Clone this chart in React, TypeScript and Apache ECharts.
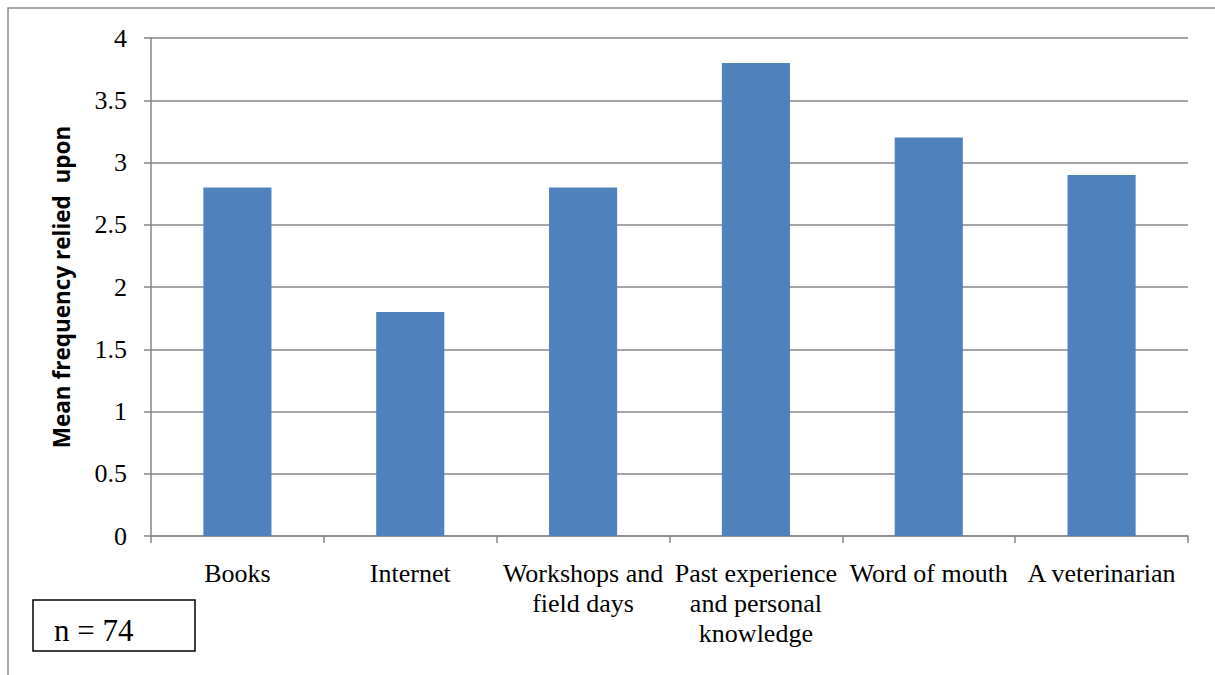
import React, { useEffect, useRef } from "react";
import * as echarts from "echarts";

const categories = [
  "Books",
  "Internet",
  "Workshops and\nfield days",
  "Past experience\nand personal\nknowledge",
  "Word of mouth",
  "A veterinarian",
];
const meanValues = [2.8, 1.8, 2.8, 3.8, 3.2, 2.9];
const yAxisTitle = "Mean frequency relied  upon";
const sampleNote = "n = 74";
const yMin = 0;
const yMax = 4;
const yStep = 0.5;

export default function App() {
  const ref = useRef<HTMLDivElement>(null);
  useEffect(() => {
    if (!ref.current) return;
    const chart = echarts.init(ref.current, null, { renderer: "svg" });
    const serif = "'Liberation Serif', 'Times New Roman', serif";
    const axisGray = "#868686";
    chart.setOption({
      animation: false,
      backgroundColor: "#ffffff",
      grid: { left: 151, right: 27, top: 38, bottom: 139, containLabel: false },
      xAxis: {
        type: "category",
        data: categories,
        boundaryGap: true,
        axisLine: { show: true, lineStyle: { color: axisGray, width: 1.5 } },
        axisTick: { show: true, alignWithLabel: false, length: 7, lineStyle: { color: axisGray, width: 1.5 } },
        axisLabel: {
          interval: 0,
          margin: 22,
          fontFamily: serif,
          fontSize: 26,
          lineHeight: 30,
          color: "#000000",
          align: "center",
        },
        splitLine: { show: false },
      },
      yAxis: {
        type: "value",
        min: yMin,
        max: yMax,
        interval: yStep,
        name: yAxisTitle,
        nameLocation: "middle",
        nameGap: 78,
        nameRotate: 90,
        nameTextStyle: {
          fontFamily: "'Open Sans', sans-serif",
          fontWeight: "bold",
          fontSize: 22.5,
          color: "#000000",
        },
        axisLine: { show: true, lineStyle: { color: axisGray, width: 1.5 } },
        axisTick: { show: true, inside: false, length: 7, lineStyle: { color: axisGray, width: 1.5 } },
        axisLabel: {
          margin: 24,
          fontFamily: serif,
          fontSize: 26,
          color: "#000000",
        },
        splitLine: { show: true, lineStyle: { color: axisGray, width: 1.5 } },
      },
      series: [
        {
          type: "bar",
          data: meanValues,
          barCategoryGap: "60.6%",
          itemStyle: { color: "#4F81BD" },
        },
      ],
      graphic: [
        {
          type: "polyline",
          silent: true,
          shape: { points: [[8, 720], [8, 8], [1400, 8]] },
          style: { fill: "none", stroke: "#8c8c8c", lineWidth: 1.5 },
          z: -1,
        },
        {
          type: "rect",
          shape: { x: 33, y: 600, width: 162, height: 51 },
          style: { fill: "#ffffff", stroke: "#000000", lineWidth: 1.5 },
        },
        {
          type: "text",
          x: 54,
          y: 630,
          style: {
            text: sampleNote,
            fontFamily: serif,
            fontSize: 31,
            fill: "#000000",
            verticalAlign: "middle",
            align: "left",
          },
        },
      ],
    });
    return () => chart.dispose();
  }, []);
  return (
    <div
      ref={ref}
      style={{ position: "fixed", left: 0, top: 0, width: 1215, height: 675, background: "#fff" }}
    />
  );
}
